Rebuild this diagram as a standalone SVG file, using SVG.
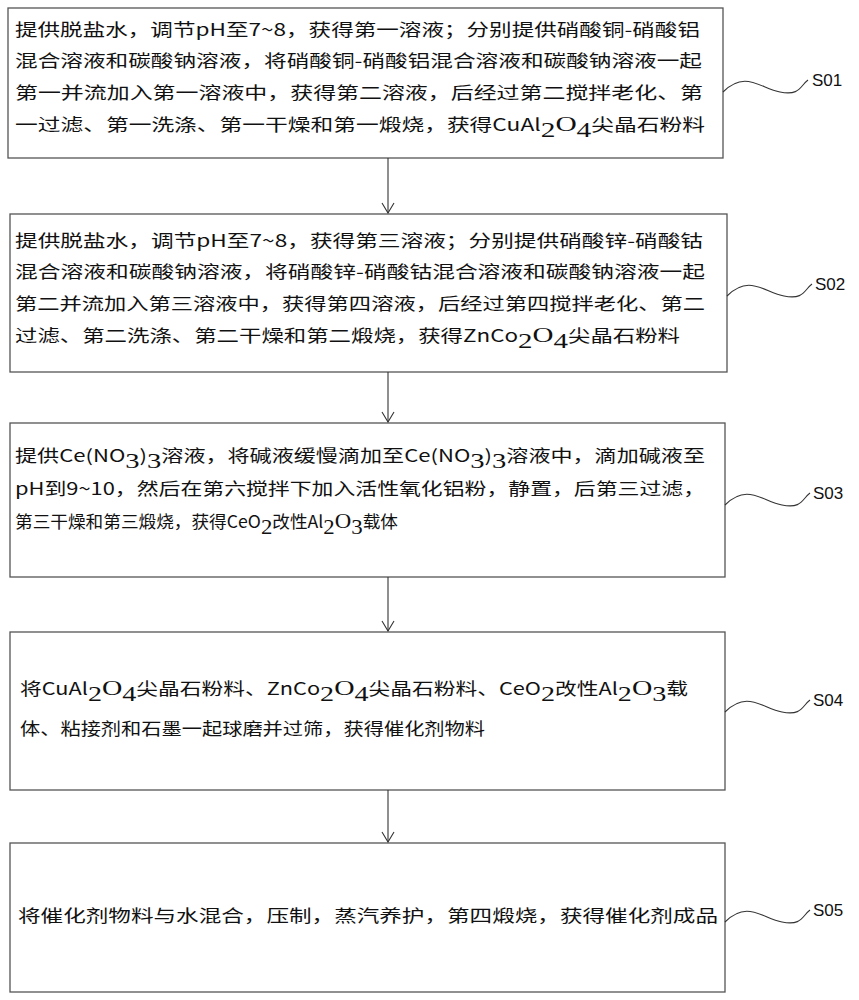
<svg xmlns="http://www.w3.org/2000/svg" width="859" height="1000" viewBox="0 0 859 1000">
<style>
.box{fill:#fff;stroke:#555;stroke-width:1.3}
.t{font-family:"Noto Sans CJK SC","Liberation Serif",serif;font-size:17px;fill:#111}
.lbl{font-family:"Liberation Sans",Arial,sans-serif;font-size:17px;fill:#111}
.c{fill:none;stroke:#333;stroke-width:1.1}
.s{font-family:"Liberation Serif",serif;font-size:22px}
</style>
<defs><marker id="a" markerWidth="14" markerHeight="12" refX="7" refY="11" orient="0" markerUnits="userSpaceOnUse"><path d="M1,1 L7,11 L13,1" fill="none" stroke="#333" stroke-width="1.1"/></marker></defs>
<rect width="859" height="1000" fill="#fff"/>
<g id="s01"><rect class="box" x="8" y="8" width="715" height="150"/>
<text class="t" x="15" y="36" textLength="685" lengthAdjust="spacingAndGlyphs">提供脱盐水，调节pH至7~8，获得第一溶液；分别提供硝酸铜-硝酸铝</text>
<text class="t" x="15" y="67" textLength="687" lengthAdjust="spacingAndGlyphs">混合溶液和碳酸钠溶液，将硝酸铜-硝酸铝混合溶液和碳酸钠溶液一起</text>
<text class="t" x="15" y="99" textLength="688" lengthAdjust="spacingAndGlyphs">第一并流加入第一溶液中，获得第二溶液，后经过第二搅拌老化、第</text>
<text class="t" x="15" y="131" textLength="690" lengthAdjust="spacingAndGlyphs">一过滤、第一洗涤、第一干燥和第一煅烧，获得CuAl<tspan class="s" dy="6">2</tspan><tspan class="s" dy="-6">O</tspan><tspan class="s" dy="6">4</tspan><tspan dy="-6">尖晶石粉料</tspan></text>
<path class="c" d="M723,92 C745,70 760,88 780,92 S800,86 808,80"/><text class="lbl" x="812" y="86">S01</text></g>
<g id="s02"><rect class="box" x="10" y="214" width="717" height="158"/>
<text class="t" x="15" y="247" textLength="688" lengthAdjust="spacingAndGlyphs">提供脱盐水，调节pH至7~8，获得第三溶液；分别提供硝酸锌-硝酸钴</text>
<text class="t" x="15" y="278" textLength="690" lengthAdjust="spacingAndGlyphs">混合溶液和碳酸钠溶液，将硝酸锌-硝酸钴混合溶液和碳酸钠溶液一起</text>
<text class="t" x="15" y="310" textLength="690" lengthAdjust="spacingAndGlyphs">第二并流加入第三溶液中，获得第四溶液，后经过第四搅拌老化、第二</text>
<text class="t" x="15" y="342" textLength="665" lengthAdjust="spacingAndGlyphs">过滤、第二洗涤、第二干燥和第二煅烧，获得ZnCo<tspan class="s" dy="6">2</tspan><tspan class="s" dy="-6">O</tspan><tspan class="s" dy="6">4</tspan><tspan dy="-6">尖晶石粉料</tspan></text>
<path class="c" d="M727,296 C749,274 764,292 784,296 S804,290 812,284"/><text class="lbl" x="815" y="290">S02</text></g>
<g id="s03"><rect class="box" x="10" y="423" width="715" height="154"/>
<text class="t" x="15" y="462" textLength="690" lengthAdjust="spacingAndGlyphs">提供Ce(NO<tspan class="s" dy="6">3</tspan><tspan dy="-6">)</tspan><tspan class="s" dy="6">3</tspan><tspan dy="-6">溶液，将碱液缓慢滴加至Ce(NO</tspan><tspan class="s" dy="6">3</tspan><tspan dy="-6">)</tspan><tspan class="s" dy="6">3</tspan><tspan dy="-6">溶液中，滴加碱液至</tspan></text>
<text class="t" x="15" y="495" textLength="690" lengthAdjust="spacingAndGlyphs">pH到9~10，然后在第六搅拌下加入活性氧化铝粉，静置，后第三过滤，</text>
<text class="t" x="15" y="528" textLength="383" lengthAdjust="spacingAndGlyphs">第三干燥和第三煅烧，获得CeO<tspan class="s" dy="6">2</tspan><tspan dy="-6">改性Al</tspan><tspan class="s" dy="6">2</tspan><tspan class="s" dy="-6">O</tspan><tspan class="s" dy="6">3</tspan><tspan dy="-6">载体</tspan></text>
<path class="c" d="M725,505 C747,483 762,501 782,505 S802,499 810,493"/><text class="lbl" x="813" y="499">S03</text></g>
<g id="s04"><rect class="box" x="10" y="632" width="715" height="158"/>
<text class="t" x="20" y="695" textLength="668" lengthAdjust="spacingAndGlyphs">将CuAl<tspan class="s" dy="6">2</tspan><tspan class="s" dy="-6">O</tspan><tspan class="s" dy="6">4</tspan><tspan dy="-6">尖晶石粉料、ZnCo</tspan><tspan class="s" dy="6">2</tspan><tspan class="s" dy="-6">O</tspan><tspan class="s" dy="6">4</tspan><tspan dy="-6">尖晶石粉料、CeO</tspan><tspan class="s" dy="6">2</tspan><tspan dy="-6">改性Al</tspan><tspan class="s" dy="6">2</tspan><tspan class="s" dy="-6">O</tspan><tspan class="s" dy="6">3</tspan><tspan dy="-6">载</tspan></text>
<text class="t" x="20" y="735" textLength="465" lengthAdjust="spacingAndGlyphs">体、粘接剂和石墨一起球磨并过筛，获得催化剂物料</text>
<path class="c" d="M725,712 C747,690 762,708 782,712 S802,706 810,700"/><text class="lbl" x="813" y="706">S04</text></g>
<g id="s05"><rect class="box" x="10" y="843" width="715" height="149"/>
<text class="t" x="18" y="922" textLength="700" lengthAdjust="spacingAndGlyphs">将催化剂物料与水混合，压制，蒸汽养护，第四煅烧，获得催化剂成品</text>
<path class="c" d="M725,922 C747,900 762,918 782,922 S802,916 810,910"/><text class="lbl" x="813" y="916">S05</text></g>
<g id="connectors">
<line class="c" x1="388" y1="158" x2="388" y2="213" marker-end="url(#a)"/>
<line class="c" x1="388" y1="372" x2="388" y2="422" marker-end="url(#a)"/>
<line class="c" x1="388" y1="577" x2="388" y2="631" marker-end="url(#a)"/>
<line class="c" x1="388" y1="790" x2="388" y2="842" marker-end="url(#a)"/>
</g>
</svg>
